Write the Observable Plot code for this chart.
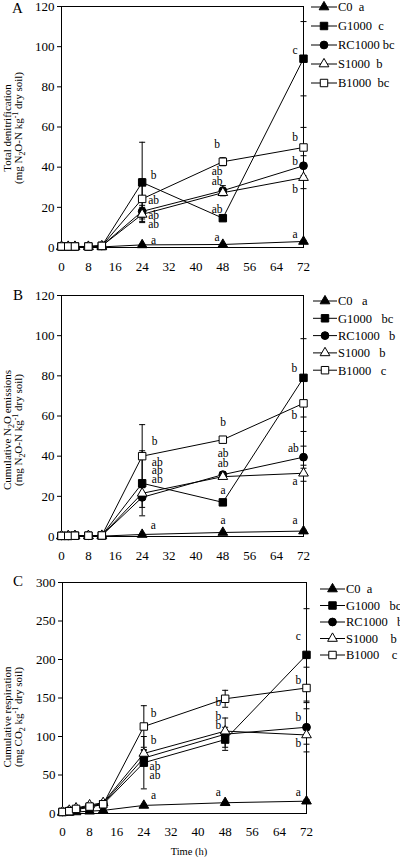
<!DOCTYPE html>
<html><head><meta charset="utf-8">
<script src="https://cdn.jsdelivr.net/npm/d3@7"></script>
<script src="https://cdn.jsdelivr.net/npm/@observablehq/plot@0.6"></script>
<style>
body{margin:0;background:#fff;}
#root{width:400px;height:857px;position:relative;font-family:"Liberation Serif",serif;overflow:hidden;}
.panel{position:absolute;left:0;width:400px;}
.panel svg{position:absolute;left:0;top:0;}
</style></head><body><div id="root"></div><script>
// ---------- shared data ----------
const times = [0, 2, 4, 8, 12, 24, 48, 72];
const seriesNames = ["C0", "G1000", "RC1000", "S1000", "B1000"];
const xTicks = [0, 8, 16, 24, 32, 40, 48, 56, 64, 72];

// ---------- panel A: total denitrification ----------
const aYTicks = [0, 20, 40, 60, 80, 100, 120];
const aC0     = [0.3, 0.3, 0.3, 0.3, 0.3, 1.3, 1.5, 3.0];
const aG1000  = [0.5, 0.5, 0.5, 0.5, 0.8, 32.4, 14.6, 94.0];
const aRC1000 = [0.5, 0.5, 0.5, 0.5, 0.8, 18.0, 28.3, 40.7];
const aS1000  = [0.5, 0.5, 0.5, 0.5, 0.8, 16.5, 27.3, 34.8];
const aB1000  = [0.5, 0.5, 0.5, 0.5, 0.8, 24.2, 42.7, 49.8];
const aErrC0     = [0, 0, 0, 0, 0, 0.3, 0.4, 0.6];
const aErrG1000  = [0, 0, 0, 0, 0, 20.0, 1.0, 18.5];
const aErrRC1000 = [0, 0, 0, 0, 0, 3.0, 2.5, 5.0];
const aErrS1000  = [0, 0, 0, 0, 0, 3.5, 1.5, 5.5];
const aErrB1000  = [0, 0, 0, 0, 0, 10.0, 2.0, 10.0];
const aLetterT = [27.4, 27.4, 27.4, 27.4, 27.4, 46.3, 46.3, 46.3, 46.3, 46.3, 69.5, 69.5, 69.5, 69.5, 69.5];
const aLetterV = [35.7, 23.6, 15.8, 11.3, 3.7, 51.2, 37.9, 33.2, 19.1, 5.0, 98.4, 54.8, 42.7, 29.1, 6.6];
const aLetterS = ["b", "ab", "ab", "ab", "a", "b", "ab", "ab", "ab", "a", "c", "b", "b", "b", "a"];
const aLegend = ["C0  a", "G1000  c", "RC1000 bc", "S1000  b", "B1000  bc"];
const aTitle1 = "Total denitrification";

// ---------- panel B: cumulative N2O emissions ----------
const bYTicks = [0, 20, 40, 60, 80, 100, 120];
const bC0     = [0.2, 0.2, 0.2, 0.2, 0.2, 1.0, 2.0, 2.7];
const bG1000  = [0.3, 0.3, 0.4, 0.4, 0.5, 26.5, 17.0, 79.0];
const bRC1000 = [0.3, 0.3, 0.4, 0.4, 0.5, 19.5, 30.8, 39.5];
const bS1000  = [0.3, 0.3, 0.4, 0.4, 0.5, 21.5, 29.8, 31.5];
const bB1000  = [0.3, 0.3, 0.4, 0.4, 0.5, 40.0, 48.2, 66.3];
const bErrC0     = [0, 0, 0, 0, 0, 0.3, 0.4, 0.5];
const bErrG1000  = [0, 0, 0, 0, 0, 16.2, 0.8, 19.5];
const bErrRC1000 = [0, 0, 0, 0, 0, 5.0, 1.5, 5.5];
const bErrS1000  = [0, 0, 0, 0, 0, 3.0, 1.0, 4.0];
const bErrB1000  = [0, 0, 0, 0, 0, 15.7, 1.0, 14.0];
const bLetterT = [27.7, 28.5, 28.5, 28.5, 27.3, 48.1, 48.1, 48.1, 48.1, 48.1, 69.3, 69.3, 69.0, 69.5, 69.5];
const bLetterV = [47.3, 37.0, 32.9, 28.5, 5.5, 56.9, 41.5, 36.5, 22.9, 8.3, 83.5, 60.2, 43.7, 27.6, 8.3];
const bLetterS = ["b", "ab", "ab", "ab", "a", "b", "ab", "ab", "a", "a", "b", "b", "ab", "a", "a"];
const bLegend = ["C0   a", "G1000   bc", "RC1000   b", "S1000   b", "B1000   c"];
const bTitle1 = ["Cumulative N", "2", "O emissions"];

// ---------- panel C: cumulative respiration ----------
const cYTicks = [0, 50, 100, 150, 200, 250, 300];
const cC0     = [1.0, 1.5, 2.0, 3.0, 4.0, 10.5, 14.0, 16.0];
const cG1000  = [2.0, 3.0, 5.0, 8.0, 12.0, 66.0, 96.0, 206.0];
const cRC1000 = [2.0, 4.0, 6.0, 10.0, 13.0, 72.0, 103.0, 112.0];
const cS1000  = [2.0, 4.0, 7.0, 11.0, 14.0, 78.0, 107.0, 102.0];
const cB1000  = [2.0, 3.0, 6.0, 9.0, 12.0, 113.0, 149.0, 163.0];
const cErrC0     = [0, 0, 0, 0, 0, 1.5, 1.5, 2.0];
const cErrG1000  = [0, 0, 0, 0, 0, 34.0, 10.0, 60.0];
const cErrRC1000 = [0, 0, 0, 0, 0, 10.0, 21.0, 32.0];
const cErrS1000  = [0, 0, 0, 0, 0, 5.0, 5.0, 12.0];
const cErrB1000  = [0, 0, 0, 0, 0, 27.0, 11.0, 27.0];
const cLetterT = [26.9, 26.9, 27.3, 27.3, 26.9, 46.0, 46.0, 46.0, 46.0, 69.6, 69.6, 69.6, 69.6, 69.6];
const cLetterV = [129.5, 95.0, 61.0, 49.0, 23.7, 144.6, 126.0, 114.0, 27.2, 230.0, 172.6, 125.0, 90.6, 28.0];
const cLetterS = ["b", "b", "ab", "ab", "a", "b", "b", "b", "a", "c", "b", "b", "b", "a"];
const cLegend = ["C0  a", "G1000   bc", "RC1000   b", "S1000    b", "B1000    c"];
const cTitle1 = "Cumulative respiration";
const xTitle = "Time (h)";

// ---------- styling ----------
const symbolNames = ["triangle", "square", "circle", "triangle", "square"];
const symbolTypes = [d3.symbolTriangle, d3.symbolSquare, d3.symbolCircle, d3.symbolTriangle, d3.symbolSquare];
const symbolR = [3.6, 4.2, 3.9, 3.6, 4.2];
const symbolFill = ["black", "black", "black", "white", "white"];
const capSymbol = {draw(ctx) { ctx.moveTo(-3, 0); ctx.lineTo(3, 0); }};
const FONT = '"Liberation Serif", "Times New Roman", serif';

function buildRows(vals, errs) {
  const rows = [];
  vals.forEach((arr, si) => arr.forEach((v, ti) => rows.push({series: seriesNames[si], si, t: times[ti], v, e: errs[si][ti]})));
  return rows;
}

function makePanel(cfg) {
  const rows = buildRows(cfg.vals, cfg.errs);
  const errRows = rows.filter(d => d.e > 0);
  const letters = cfg.letterT.map((t, i) => ({t, v: cfg.letterV[i], s: cfg.letterS[i]}));
  const marks = [
    Plot.frame({stroke: "black", strokeWidth: 1}),
    Plot.axisY(cfg.yTicks, {tickSize: 4, tickPadding: 3, fontSize: 13, label: null}),
    Plot.axisX(xTicks, {tickSize: 0, tickPadding: cfg.xPad, fontSize: 13, label: null}),
    ...seriesNames.map((s, si) => Plot.line(rows.filter(d => d.si === si), {x: "t", y: "v", stroke: "black", strokeWidth: 1})),
    Plot.ruleX(errRows, {x: "t", y1: d => d.v - d.e, y2: d => d.v + d.e, stroke: "black", strokeWidth: 1}),
    Plot.dot(errRows, {x: "t", y: d => d.v + d.e, symbol: capSymbol, stroke: "black", fill: "none", strokeWidth: 1}),
    Plot.dot(errRows, {x: "t", y: d => d.v - d.e, symbol: capSymbol, stroke: "black", fill: "none", strokeWidth: 1}),
    ...seriesNames.map((s, si) => Plot.dot(rows.filter(d => d.si === si), {x: "t", y: "v", symbol: symbolNames[si], r: symbolR[si], fill: symbolFill[si], stroke: "black", strokeWidth: 1})),
    Plot.text(letters, {x: "t", y: "v", text: "s", fontSize: 11.5, fill: "#000", fontFamily: FONT})
  ];
  const plot = Plot.plot({
    width: 400, height: cfg.height,
    marginTop: cfg.mt, marginBottom: cfg.mb, marginLeft: cfg.ml, marginRight: cfg.mr,
    x: {domain: [0, 72]},
    y: {domain: [cfg.yTicks[0], cfg.yTicks[cfg.yTicks.length - 1]]},
    style: {fontFamily: FONT, fontSize: "13px", color: "black", background: "white", overflow: "visible"},
    marks
  });
  const div = document.createElement("div");
  div.className = "panel";
  div.style.top = cfg.top + "px";
  div.style.height = cfg.height + "px";
  div.appendChild(plot);
  // overlay with panel letter, y title and legend
  const svg = d3.select(div).append("svg").attr("width", 400).attr("height", cfg.height)
    .style("font-family", FONT).style("overflow", "visible");
  svg.append("text").attr("x", cfg.letterPos[0]).attr("y", cfg.letterPos[1]).attr("font-size", 15).text(cfg.panelLetter);
  function richText(g, segs, size) {
    const t = g.append("text").attr("font-size", size).attr("text-anchor", "middle");
    let shift = 0;
    segs.forEach(([str, kind]) => {
      const target = kind === "sub" ? 3 : kind === "sup" ? -4 : 0;
      t.append("tspan").attr("dy", target - shift).attr("font-size", kind ? size * 0.72 : size).text(str);
      shift = target;
    });
    return t;
  }
  const tg1 = svg.append("g").attr("transform", `translate(${cfg.titleX[0]},${cfg.titleY}) rotate(-90)`);
  richText(tg1, cfg.title1, 11);
  const tg2 = svg.append("g").attr("transform", `translate(${cfg.titleX[1]},${cfg.titleY}) rotate(-90)`);
  richText(tg2, cfg.title2, 11);
  const lg = svg.append("g");
  cfg.legend.forEach((label, i) => {
    const y = cfg.legY0 + i * cfg.legStep;
    lg.append("line").attr("x1", cfg.legX[0]).attr("x2", cfg.legX[1]).attr("y1", y).attr("y2", y).attr("stroke", "black");
    lg.append("path").attr("d", d3.symbol(symbolTypes[i], Math.PI * symbolR[i] * symbolR[i])())
      .attr("transform", `translate(${(cfg.legX[0] + cfg.legX[1]) / 2},${y})`)
      .attr("fill", symbolFill[i]).attr("stroke", "black");
    lg.append("text").attr("x", cfg.legX[1] + 1).attr("y", y).attr("dy", "0.35em").attr("font-size", 12.5)
      .style("white-space", "pre").text(label);
  });
  if (cfg.xTitle) {
    svg.append("text").attr("x", cfg.xTitle[1]).attr("y", cfg.xTitle[2]).attr("text-anchor", "middle")
      .attr("font-size", 10.5).text(cfg.xTitle[0]);
  }
  document.getElementById("root").appendChild(div);
}

const n2oUnit = [["(mg N", ""], ["2", "sub"], ["O-N kg", ""], ["-1", "sup"], [" dry soil)", ""]];
const co2Unit = [["(mg CO", ""], ["2", "sub"], [" kg", ""], ["-1", "sup"], [" dry soil)", ""]];

makePanel({
  top: 0, height: 285, mt: 6, mb: 38, ml: 61, mr: 97, xPad: 14,
  yTicks: aYTicks,
  vals: [aC0, aG1000, aRC1000, aS1000, aB1000],
  errs: [aErrC0, aErrG1000, aErrRC1000, aErrS1000, aErrB1000],
  letterT: aLetterT, letterV: aLetterV, letterS: aLetterS,
  legend: aLegend, legX: [311, 337], legY0: 7, legStep: 19,
  panelLetter: "A", letterPos: [12, 13],
  title1: [[aTitle1, ""]], title2: n2oUnit, titleX: [11, 22], titleY: 128
});
makePanel({
  top: 285, height: 285, mt: 10, mb: 34, ml: 61, mr: 97, xPad: 14,
  yTicks: bYTicks,
  vals: [bC0, bG1000, bRC1000, bS1000, bB1000],
  errs: [bErrC0, bErrG1000, bErrRC1000, bErrS1000, bErrB1000],
  letterT: bLetterT, letterV: bLetterV, letterS: bLetterS,
  legend: bLegend, legX: [313, 337], legY0: 16, legStep: 17.3,
  panelLetter: "B", letterPos: [13, 15],
  title1: [[bTitle1[0], ""], [bTitle1[1], "sub"], [bTitle1[2], ""]], title2: n2oUnit, titleX: [11, 22], titleY: 145
});
makePanel({
  top: 570, height: 287, mt: 12, mb: 44, ml: 62, mr: 94, xPad: 13,
  yTicks: cYTicks,
  vals: [cC0, cG1000, cRC1000, cS1000, cB1000],
  errs: [cErrC0, cErrG1000, cErrRC1000, cErrS1000, cErrB1000],
  letterT: cLetterT, letterV: cLetterV, letterS: cLetterS,
  legend: cLegend, legX: [320, 345], legY0: 19, legStep: 16.5,
  panelLetter: "C", letterPos: [13, 16],
  title1: [[cTitle1, ""]], title2: co2Unit, titleX: [11, 22], titleY: 147,
  xTitle: [xTitle, 189, 285]
});
</script></body></html>
